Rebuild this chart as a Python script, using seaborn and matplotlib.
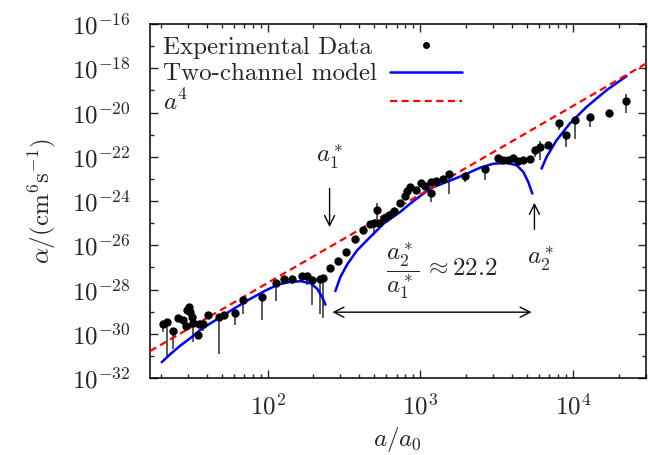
"""
Three-body loss coefficient vs scattering length (log-log)
"""

import numpy as np
import pandas as pd
import matplotlib
matplotlib.use('Agg')
import matplotlib.pyplot as plt
import matplotlib.ticker as mticker
from matplotlib.lines import Line2D
import seaborn as sns

# ====================
# Data
# ====================
# experimental points: a/a0, log10(alpha), error bar down / up (in decades)
exp_a = [20.7, 22.1, 24.0, 25.9, 27.9, 29.1, 29.9, 30.6, 30.9, 32.2,
         32.7, 35.0, 35.6, 37.8, 40.7, 47.9, 51.8, 61.5, 69.0, 91.4,
         113, 128, 145, 169, 182, 196, 220, 231, 258, 290,
         328, 372, 422, 471, 495, 521, 540, 582, 627, 676,
         740, 792, 818, 860, 942, 1011, 1079, 1175, 1181, 1273,
         1407, 1554, 1968, 2660, 3250, 3500, 3776, 4070, 4370, 4730,
         5236, 5645, 6085, 6915, 8095, 9070, 10310, 12910, 17260, 22300]
exp_log_alpha = [-29.54, -29.47, -29.85, -29.29, -29.36, -29.65, -28.94, -28.79, -29.02, -29.24,
                 -29.50, -30.07, -29.54, -29.57, -29.17, -29.24, -29.14, -29.06, -28.49, -28.34,
                 -27.71, -27.54, -27.54, -27.40, -27.37, -27.55, -27.51, -27.48, -27.01, -26.71,
                 -26.30, -25.70, -25.32, -25.02, -24.99, -24.38, -25.00, -24.76, -24.64, -24.46,
                 -24.10, -23.76, -23.53, -23.35, -23.48, -23.18, -23.33, -23.63, -23.14, -23.10,
                 -22.98, -22.79, -22.88, -22.53, -22.06, -22.12, -22.12, -22.06, -22.20, -22.12,
                 -22.09, -21.70, -21.54, -21.48, -20.49, -21.00, -20.33, -20.19, -20.01, -19.46]
exp_err_dn = [0.38, 1.51, 0.82, 0, 0, 0, 0, 0, 0, 0,
              0.88, 0, 0, 0.32, 0, 1.66, 0, 0.56, 0.60, 1.02,
              0.81, 0, 0.19, 0.26, 0.44, 1.16, 1.57, 1.82, 0, 0,
              0, 0, 0, 0, 0.56, 0.79, 0, 0, 0, 0,
              0, 0, 0, 0, 0, 0, 0, 0.41, 0, 0,
              0, 0.87, 0.27, 0.53, 0, 0.12, 0.17, 0, 0, 0,
              0, 0.30, 0.58, 0, 0.31, 0.57, 0.87, 0.46, 0, 0.57]
exp_err_up = [0, 0, 0, 0, 0, 0, 0.15, 0, 0, 0,
              0, 0, 0, 0, 0, 0, 0, 0, 0, 0,
              0, 0, 0, 0.10, 0.10, 0, 0, 0, 0, 0,
              0, 0, 0, 0, 0, 0.28, 0, 0, 0, 0,
              0, 0, 0, 0, 0, 0, 0, 0, 0, 0,
              0, 0, 0, 0, 0, 0, 0, 0, 0, 0,
              0, 0, 0.25, 0, 0, 0, 0, 0, 0, 0.28]

# two-channel model, three branches: log10(a/a0), log10(alpha)
model1_loga = [1.307, 1.366, 1.431, 1.497, 1.562, 1.627, 1.693, 1.780, 1.889,
               1.987, 2.074, 2.150, 2.216, 2.281, 2.325, 2.358, 2.379]
model1_logalpha = [-31.28, -30.90, -30.52, -30.18, -29.81, -29.52, -29.24, -28.86, -28.41,
                   -28.04, -27.76, -27.65, -27.62, -27.71, -27.96, -28.34, -28.68]
model2_loga = [2.444, 2.477, 2.521, 2.586, 2.673, 2.760, 2.869, 2.935, 3.065,
               3.283, 3.392, 3.479, 3.567, 3.632, 3.675, 3.708, 3.734]
model2_logalpha = [-28.07, -27.43, -26.87, -26.23, -25.62, -25.02, -24.49, -24.11, -23.43,
                   -22.83, -22.49, -22.31, -22.27, -22.38, -22.68, -23.14, -23.66]
model3_loga = [3.795, 3.828, 3.893, 3.980, 4.090, 4.220, 4.351]
model3_logalpha = [-22.53, -22.00, -21.25, -20.49, -19.74, -18.99, -18.35]

# a^4 reference line
a4_range = [17, 30000]
a4_log_prefactor = -35.7

# resonance positions
a1_star = 255
a2_star = 5600

# ====================
# Style
# ====================
sns.set_theme(style='ticks')
plt.rcParams['font.family'] = 'cmr10'
plt.rcParams['mathtext.fontset'] = 'cm'
plt.rcParams['axes.formatter.use_mathtext'] = True
plt.rcParams['axes.unicode_minus'] = True
fs = 18

fig, ax = plt.subplots(figsize=(6.48, 4.55), dpi=100)
fig.subplots_adjust(left=0.2315, right=0.9965, bottom=0.169, top=0.947)

exp = pd.DataFrame({'a': exp_a,
                    'alpha': 10.0 ** np.array(exp_log_alpha),
                    'lo': 10.0 ** (np.array(exp_log_alpha) - np.array(exp_err_dn)),
                    'hi': 10.0 ** (np.array(exp_log_alpha) + np.array(exp_err_up))})

# error bars
ax.vlines(exp['a'], exp['lo'], exp['hi'], color='0.3', lw=1.3, zorder=2)

# model branches
for la, lal in [(model1_loga, model1_logalpha),
                (model2_loga, model2_logalpha),
                (model3_loga, model3_logalpha)]:
    df = pd.DataFrame({'a': 10.0 ** np.array(la), 'alpha': 10.0 ** np.array(lal)})
    sns.lineplot(data=df, x='a', y='alpha', ax=ax, color='#0000ff', lw=1.8,
                 sort=False, zorder=3)

# a^4 line
a4 = pd.DataFrame({'a': a4_range})
a4['alpha'] = 10.0 ** a4_log_prefactor * a4['a'] ** 4
sns.lineplot(data=a4, x='a', y='alpha', ax=ax, color='#ff0000', lw=1.6,
             dashes=False, zorder=3)
ax.lines[-1].set_dashes((3.2, 2.0))

# experimental points
sns.scatterplot(data=exp, x='a', y='alpha', ax=ax, color='black', s=36,
                edgecolor='black', linewidth=0, zorder=4)

ax.set_xscale('log')
ax.set_yscale('log')
ax.set_xlim(17, 30000)
ax.set_ylim(1e-32, 1e-16)

# ticks
ax.yaxis.set_major_locator(mticker.FixedLocator([10.0 ** e for e in range(-32, -15, 2)]))
ax.yaxis.set_minor_locator(mticker.FixedLocator([10.0 ** e for e in range(-31, -16, 2)]))
ax.yaxis.set_major_formatter(mticker.LogFormatterSciNotation())
ax.yaxis.set_minor_formatter(mticker.NullFormatter())
ax.xaxis.set_major_locator(mticker.LogLocator(base=10, numticks=10))
ax.xaxis.set_minor_locator(mticker.LogLocator(base=10, subs=np.arange(2, 10), numticks=20))
ax.xaxis.set_minor_formatter(mticker.NullFormatter())
ax.tick_params(which='both', direction='in', top=True, right=True, width=1.0, labelsize=fs)
ax.tick_params(which='major', length=6)
ax.tick_params(which='minor', length=3)
ax.tick_params(axis='x', which='major', pad=11)
ax.tick_params(axis='y', which='major', pad=14)
for sp in ax.spines.values():
    sp.set_linewidth(1.1)
    sp.set_color('black')

ax.set_xlabel(r'$a/a_0$', fontsize=fs, labelpad=4)
ax.set_ylabel(r'$\alpha/(\mathrm{cm}^6\mathrm{s}^{-1})$', fontsize=fs, labelpad=10)

# annotations
ax.annotate('', xy=(a1_star, 10 ** -25.3), xytext=(a1_star, 10 ** -23.3),
            arrowprops=dict(arrowstyle='->', color='black', lw=1.0, mutation_scale=18))
ax.text(a1_star, 10 ** -22.0, r'$a_1^*$', fontsize=fs, ha='center', va='center')
ax.annotate('', xy=(a2_star, 10 ** -23.95), xytext=(a2_star, 10 ** -25.4),
            arrowprops=dict(arrowstyle='->', color='black', lw=1.0, mutation_scale=18))
ax.text(6150, 10 ** -26.6, r'$a_2^*$', fontsize=fs, ha='center', va='center')
ax.annotate('', xy=(a1_star, 10 ** -29.02), xytext=(a2_star, 10 ** -29.02),
            arrowprops=dict(arrowstyle='<->', color='black', lw=1.0, mutation_scale=18))
ax.text(1390, 10 ** -27.13, r'$\dfrac{a_2^*}{a_1^*}\,\approx 22.2$', fontsize=fs,
        ha='center', va='center')

# legend: labels on the left, handles in a column to the right
labels = ['Experimental Data', 'Two-channel model', r'$a^4$']
blank = [Line2D([], [], ls='none') for _ in labels]
leg_txt = ax.legend(blank, labels, loc='upper left', frameon=False, fontsize=fs,
                    handlelength=0, handletextpad=0, labelspacing=0.15,
                    borderaxespad=0.3, borderpad=0.2)
ax.add_artist(leg_txt)
handles = [Line2D([], [], ls='none', marker='o', ms=4, color='black'),
           Line2D([], [], color='#0000ff', lw=1.8),
           Line2D([], [], color='#ff0000', lw=1.6, dashes=(3.2, 2.0))]
leg_h = ax.legend(handles, labels, loc='upper left', bbox_to_anchor=(0.458, 1.0),
                  frameon=False, fontsize=fs, handlelength=2.9, handletextpad=0,
                  labelspacing=0.15, borderaxespad=0.3, borderpad=0.2)
for t in leg_h.get_texts():
    t.set_alpha(0)

plt.savefig('out.png', dpi=100)
plt.close()
